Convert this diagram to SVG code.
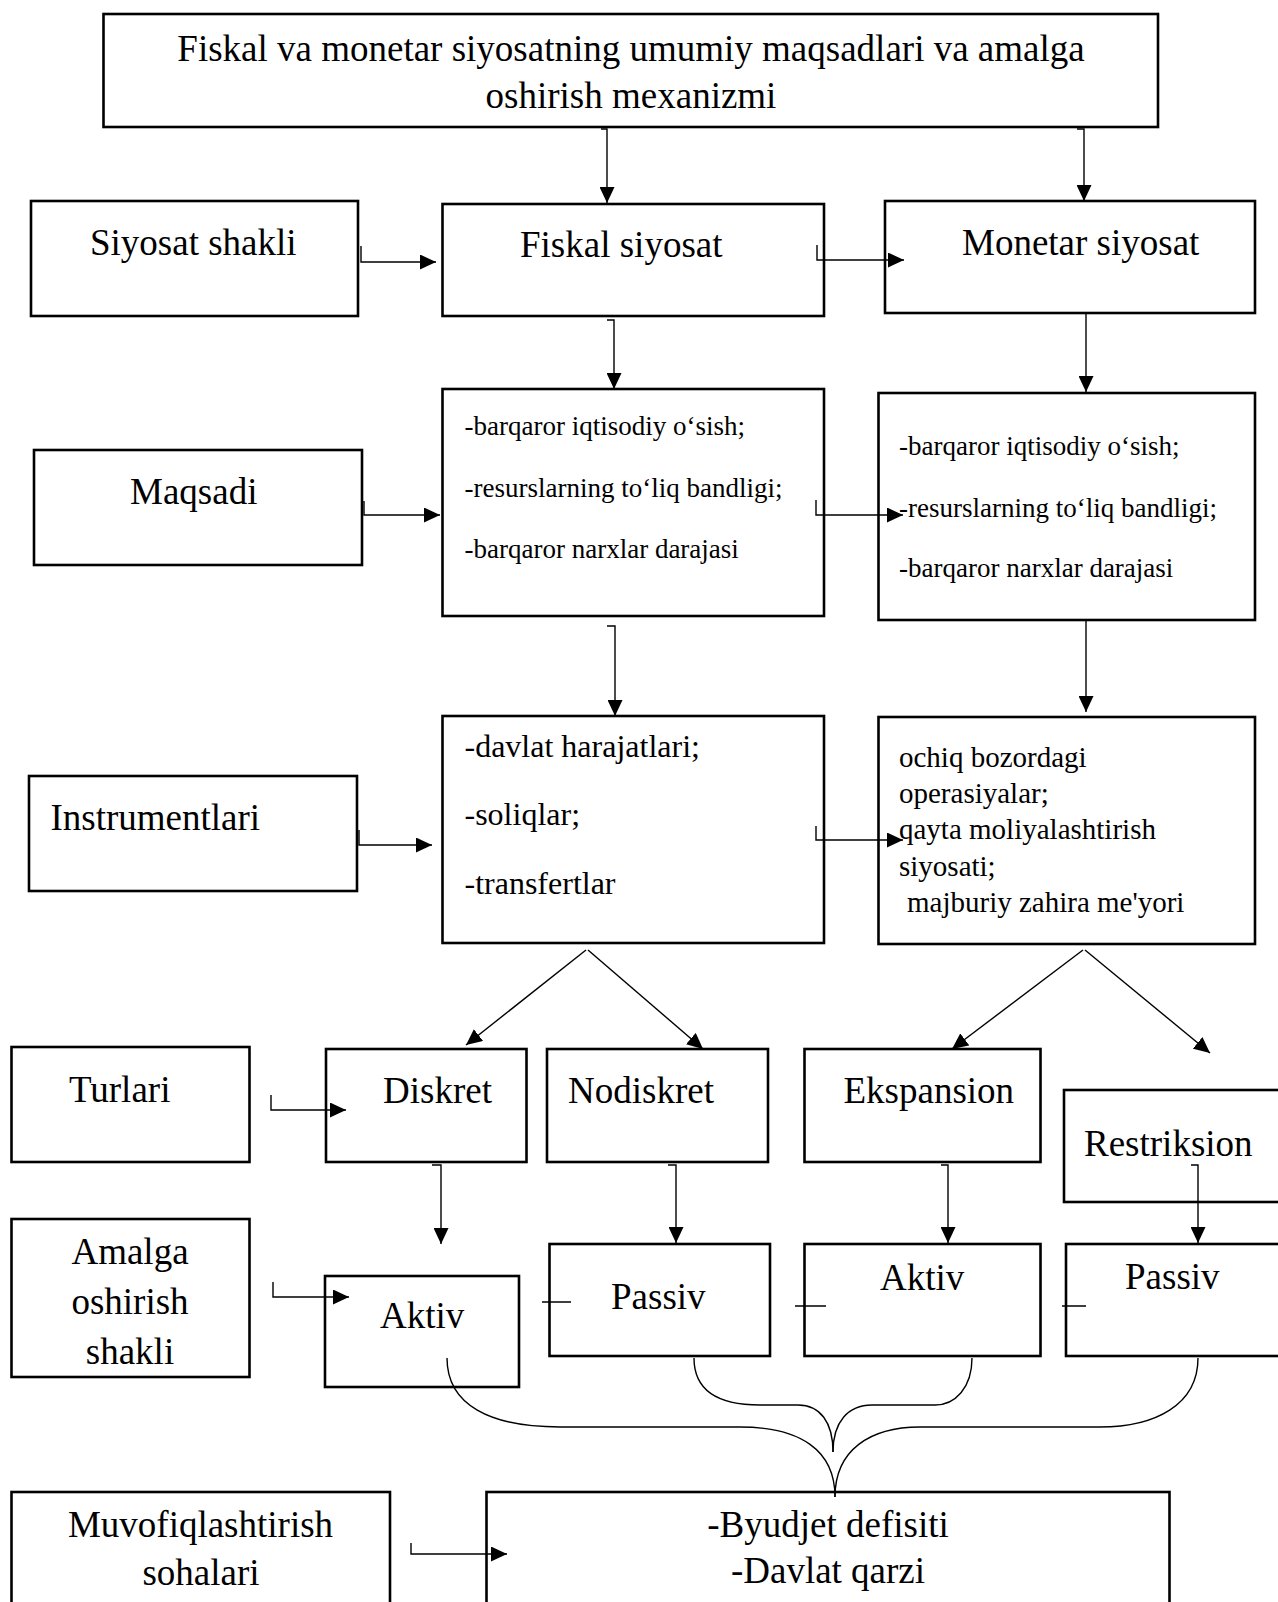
<svg xmlns="http://www.w3.org/2000/svg" width="1278" height="1602" viewBox="0 0 1278 1602">
<defs>
<marker id="ah" markerUnits="userSpaceOnUse" markerWidth="17" markerHeight="15" refX="16" refY="7.5" orient="auto">
<path d="M0,0 L16,7.5 L0,15 z" fill="#000"/>
</marker>
<style>
.box{fill:#fff;stroke:#000;stroke-width:2.6}
.c{fill:none;stroke:#000;stroke-width:1.4}
.a{marker-end:url(#ah)}
text{font-family:"Liberation Serif","Times New Roman",serif;fill:#000}
.L{font-size:37px}
.g{font-size:27px}
.fi{font-size:32px}
.mi{font-size:29px}
.m{text-anchor:middle}
</style>
</defs>
<rect width="1278" height="1602" fill="#fff"/>

<g id="top"><rect class="box" x="103.5" y="14" width="1054.5" height="113"/>
<text class="L m" x="631" y="61">Fiskal va monetar siyosatning umumiy maqsadlari va amalga</text>
<text class="L m" x="631" y="108">oshirish mexanizmi</text></g>

<g id="siyosat-shakli"><rect class="box" x="31" y="201" width="327" height="115"/>
<text class="L" x="90" y="255">Siyosat shakli</text></g>
<g id="fiskal"><rect class="box" x="442.5" y="204" width="381.5" height="112"/>
<text class="L" x="520" y="257">Fiskal siyosat</text></g>
<g id="monetar"><rect class="box" x="885" y="201" width="370" height="112"/>
<text class="L" x="962" y="255">Monetar siyosat</text></g>

<g id="maqsadi"><rect class="box" x="34" y="450" width="328" height="115"/>
<text class="L" x="130" y="504">Maqsadi</text></g>
<g id="fiskal-maqsad"><rect class="box" x="442.5" y="389" width="381.5" height="227"/>
<text class="g" x="464.5" y="435">-barqaror iqtisodiy o‘sish;</text>
<text class="g" x="464.5" y="497">-resurslarning to‘liq bandligi;</text>
<text class="g" x="464.5" y="558">-barqaror narxlar darajasi</text></g>
<g id="monetar-maqsad"><rect class="box" x="878.5" y="393" width="376.5" height="227"/>
<text class="g" x="899" y="455">-barqaror iqtisodiy o‘sish;</text>
<text class="g" x="899" y="517">-resurslarning to‘liq bandligi;</text>
<text class="g" x="899" y="577">-barqaror narxlar darajasi</text></g>

<g id="instrumentlari"><rect class="box" x="29" y="776" width="328" height="115"/>
<text class="L" x="50.5" y="830">Instrumentlari</text></g>
<g id="fiskal-instr"><rect class="box" x="442.5" y="716" width="381.5" height="227"/>
<text class="fi" x="464.5" y="757">-davlat harajatlari;</text>
<text class="fi" x="464.5" y="825">-soliqlar;</text>
<text class="fi" x="464.5" y="894">-transfertlar</text></g>
<g id="monetar-instr"><rect class="box" x="878.5" y="717" width="376.5" height="227"/>
<text class="mi" x="899" y="767">ochiq bozordagi</text>
<text class="mi" x="899" y="803">operasiyalar;</text>
<text class="mi" x="899" y="839">qayta moliyalashtirish</text>
<text class="mi" x="899" y="876">siyosati;</text>
<text class="mi" x="907" y="912">majburiy zahira me'yori</text></g>

<g id="turlari"><rect class="box" x="11.5" y="1047" width="238" height="115"/>
<text class="L" x="69" y="1102">Turlari</text></g>
<g id="diskret"><rect class="box" x="326" y="1049" width="200.5" height="113"/>
<text class="L" x="383" y="1103">Diskret</text></g>
<g id="nodiskret"><rect class="box" x="547" y="1049" width="221" height="113"/>
<text class="L" x="568" y="1103">Nodiskret</text></g>
<g id="ekspansion"><rect class="box" x="804.5" y="1049" width="236" height="113"/>
<text class="L" x="843.5" y="1103">Ekspansion</text></g>
<g id="restriksion"><rect class="box" x="1064" y="1090" width="240" height="112"/>
<text class="L" x="1084" y="1156">Restriksion</text></g>

<g id="amalga"><rect class="box" x="11.5" y="1219" width="238" height="158"/>
<text class="L m" x="130" y="1264">Amalga</text>
<text class="L m" x="130" y="1314">oshirish</text>
<text class="L m" x="130" y="1364">shakli</text></g>
<g id="aktiv-f"><rect class="box" x="325" y="1276" width="194" height="111"/>
<text class="L" x="380" y="1328">Aktiv</text></g>
<g id="passiv-f"><rect class="box" x="549.5" y="1244" width="220.5" height="112"/>
<text class="L" x="611" y="1309">Passiv</text></g>
<g id="aktiv-m"><rect class="box" x="804.5" y="1244" width="236" height="112"/>
<text class="L" x="880" y="1290">Aktiv</text></g>
<g id="passiv-m"><rect class="box" x="1066" y="1244" width="240" height="112"/>
<text class="L" x="1125" y="1289">Passiv</text></g>

<g id="muvofiq"><rect class="box" x="11.5" y="1492" width="378.5" height="130"/>
<text class="L m" x="200.5" y="1537">Muvofiqlashtirish</text>
<text class="L m" x="201" y="1585">sohalari</text></g>
<g id="byudjet"><rect class="box" x="486.5" y="1492" width="683" height="130"/>
<text class="L m" x="828" y="1537">-Byudjet defisiti</text>
<text class="L m" x="828" y="1583">-Davlat qarzi</text></g>

<g id="connectors">
<path class="c a" d="M601 129 H607 V203"/>
<path class="c a" d="M1077 129 H1084 V201"/>
<path class="c a" d="M361 246 V262 H436"/>
<path class="c a" d="M817 245 V260 H904"/>
<path class="c a" d="M607 320 H614 V389"/>
<path class="c a" d="M1086 313 V392"/>
<path class="c a" d="M364 501 V515 H440"/>
<path class="c a" d="M816 500 V515 H903"/>
<path class="c a" d="M607 626 H615 V716"/>
<path class="c a" d="M1086 620 V712"/>
<path class="c a" d="M359 830 V845 H432"/>
<path class="c a" d="M816 826 V840 H903"/>
<path class="c a" d="M586 950 L466 1045"/>
<path class="c a" d="M588 950 L703 1049"/>
<path class="c a" d="M1083 950 L952 1049"/>
<path class="c a" d="M1085 950 L1210 1053"/>
<path class="c a" d="M271 1095 V1110 H346"/>
<path class="c a" d="M432 1165 H441 V1244"/>
<path class="c a" d="M668 1165 H676 V1243"/>
<path class="c a" d="M941 1165 H948 V1243"/>
<path class="c a" d="M1191 1165 H1198 V1243"/>
<path class="c a" d="M273 1282 V1297 H349"/>
<path class="c" d="M542 1302 H571 M795 1306 H826 M1062 1306 H1086"/>
<path class="c" d="M447 1358 C447 1405 490 1427 560 1427 L740 1427 C800 1427 835 1450 835 1497"/>
<path class="c" d="M1198 1358 C1198 1405 1155 1427 1100 1427 L920 1427 C870 1427 835 1450 835 1497"/>
<path class="c" d="M694 1358 C694 1388 715 1405 760 1405 L798 1405 C820 1405 833 1422 833 1452"/>
<path class="c" d="M972 1358 C972 1388 955 1405 935 1405 L872 1405 C848 1405 833 1422 833 1452"/>
<path class="c a" d="M411 1543 V1554 H507"/>
</g>
</svg>
